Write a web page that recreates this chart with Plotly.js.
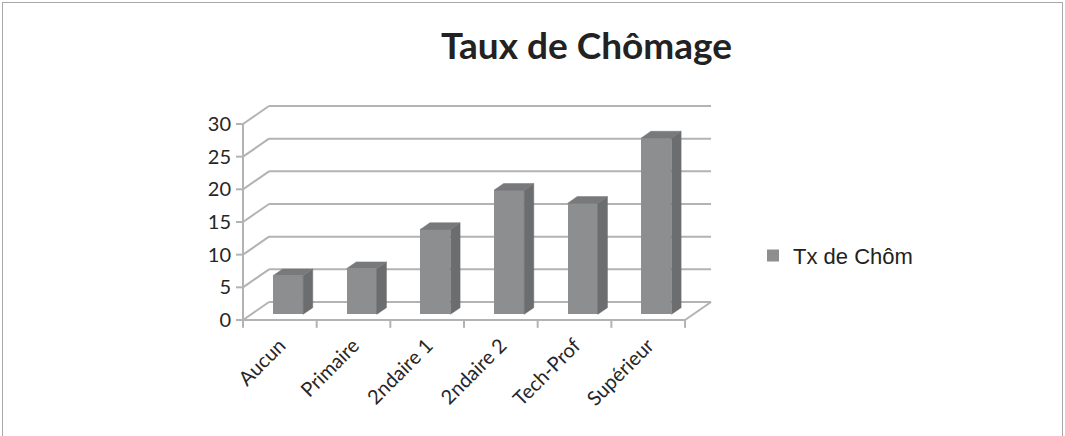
<!DOCTYPE html>
<html><head><meta charset="utf-8">
<script src="https://cdn.plot.ly/plotly-3.0.1.min.js"></script>
<style>
html,body{margin:0;padding:0;background:#fff}
#chart{position:absolute;left:0;top:0;width:1065px;height:436px}
#frame{position:absolute;left:2px;top:2px;width:1059px;height:470px;border:1px solid #a8a8a8;pointer-events:none}
</style>
</head><body><div id="chart"></div><div id="frame"></div>
<script>
// ---- data ----
const categories = ["Aucun", "Primaire", "2ndaire 1", "2ndaire 2", "Tech-Prof", "Supérieur"];
const values = [5.9, 7, 13, 19, 17, 27];
const seriesName = "Tx de Chôm";
const yTicks = [0, 5, 10, 15, 20, 25, 30];
const chartTitle = "Taux de Chômage";

// ---- pseudo-3D projection (data units) ----
const DX = 0.353, DY = 2.755;   // floor depth vector
const F = 0.315, B = 0.37;      // bar front depth, bar depth (fraction of floor depth)
const W = 0.41;                 // bar width (category units)
const XT = 0.095, YT = 1.2;     // outer tick lengths
const n = categories.length;
const yMax = yTicks[yTicks.length - 1];

const gridCol = '#b3b3b3';
const frontCol = '#8d8e90', sideCol = '#6c6d6f', topCol = '#78797b';

// wall / floor / axis lines as shapes drawn beneath the bars
const shapes = [];
function seg(x0, y0, x1, y1) {
  shapes.push({type: 'line', xref: 'x', yref: 'y', x0, y0, x1, y1, layer: 'below',
               line: {color: gridCol, width: 2}});
}
yTicks.forEach(v => {
  seg(0, v, DX, v + DY);          // left wall diagonal
  seg(DX, v + DY, n + DX, v + DY); // back wall gridline
  seg(-XT, v, 0, v);               // y tick mark
});
seg(0, 0, n, 0);          // floor front edge
seg(n, 0, n + DX, DY);    // floor right edge
seg(0, 0, 0, yMax);       // y axis
for (let i = 0; i <= n; i++) seg(i, 0, i, -YT);  // category tick marks

// bar faces
const centers = categories.map((c, i) => i + 0.5 + F * DX);
const sx = [], sy = [], tx = [], ty = [];
values.forEach((v, i) => {
  const xl = centers[i] - W / 2, xr = centers[i] + W / 2;
  const y0 = F * DY, y1 = (F + B) * DY;
  sx.push(xr, xr + B * DX, xr + B * DX, xr, xr, null);
  sy.push(y0, y1, y1 + v, y0 + v, y0, null);
  tx.push(xl, xr, xr + B * DX, xl + B * DX, xl, null);
  ty.push(y0 + v, y0 + v, y1 + v, y1 + v, y0 + v, null);
});

const traces = [
  {type: 'bar', name: seriesName, x: centers, y: values, base: values.map(() => F * DY), width: W,
   marker: {color: frontCol, line: {width: 0}}, showlegend: true},
  {type: 'scatter', mode: 'lines', x: sx, y: sy, fill: 'toself', fillcolor: sideCol, line: {color: sideCol, width: 0.5}, hoverinfo: 'skip', showlegend: false},
  {type: 'scatter', mode: 'lines', x: tx, y: ty, fill: 'toself', fillcolor: topCol, line: {color: topCol, width: 0.5}, hoverinfo: 'skip', showlegend: false}
];

const L = 236, R = 353, T = 103, Bm = 107;
const layout = {
  width: 1065, height: 436,
  margin: {l: L, r: R, t: T, b: Bm, pad: 0},
  paper_bgcolor: '#ffffff', plot_bgcolor: '#ffffff',
  title: {text: chartTitle, font: {family: 'Lato, Open Sans, sans-serif', size: 37, weight: 700, color: '#222222'},
          xref: 'container', x: 586.5 / 1065, xanchor: 'center', yref: 'container', y: 1 - 46 / 436, yanchor: 'middle'},
  xaxis: {type: 'linear', range: [-XT, 6.366], tickvals: categories.map((c, i) => i + 0.5), ticktext: categories,
          tickangle: -45, ticks: '', showgrid: false, zeroline: false, showline: false, fixedrange: true,
          tickfont: {family: 'Lato, sans-serif', size: 20, color: '#262626'}},
  yaxis: {range: [-1.378, 33.214], tickvals: yTicks, ticks: '', showgrid: false, zeroline: false, showline: false,
          fixedrange: true, ticklabelstandoff: 4, tickfont: {family: 'Lato, sans-serif', size: 20, color: '#262626'}},
  shapes: shapes,
  showlegend: true,
  legend: {x: (753 - L) / (1065 - L - R), xanchor: 'left', y: (436 - Bm - 255.7) / (436 - T - Bm), yanchor: 'middle',
           font: {family: 'Liberation Sans, Arial, sans-serif', size: 22, color: '#222222'}, bgcolor: 'rgba(0,0,0,0)'},
  bargap: 0
};

Plotly.newPlot('chart', traces, layout, {displayModeBar: false, staticPlot: true});
</script>
</body></html>
